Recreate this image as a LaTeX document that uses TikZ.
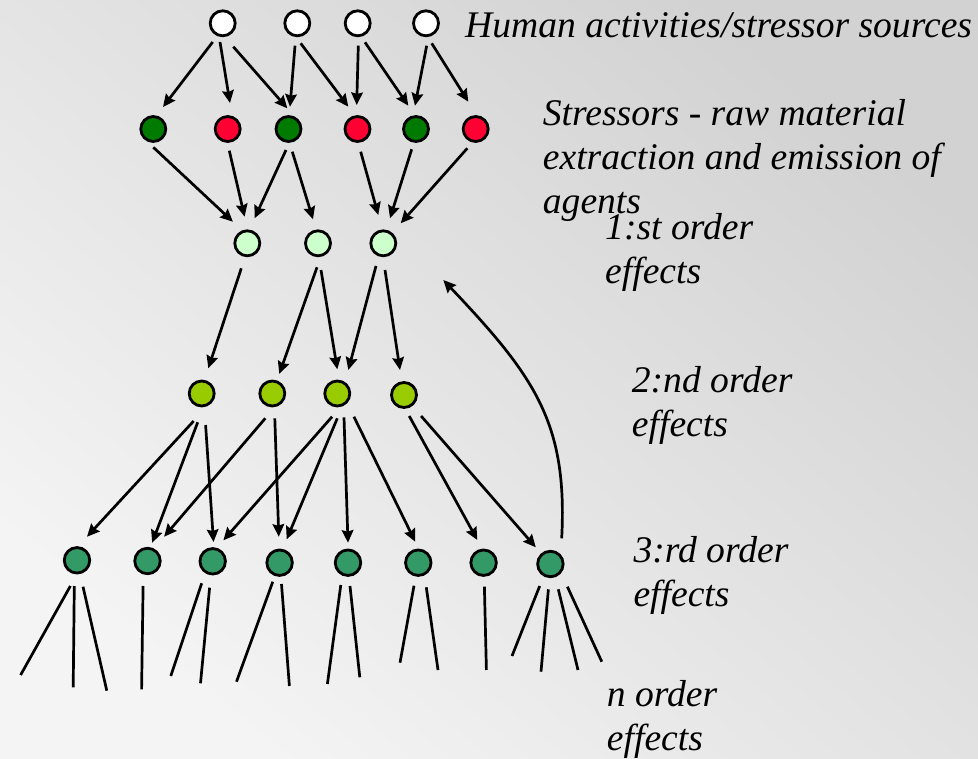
\documentclass[tikz,border=0pt]{standalone}
\usepackage{fontspec}
\setmainfont{Liberation Serif}
\usetikzlibrary{arrows.meta,calc}
\definecolor{bgdark}{HTML}{D2D2D2}
\definecolor{bglight}{HTML}{F4F4F4}
\definecolor{strgreen}{HTML}{007A00}
\definecolor{strred}{HTML}{FF0033}
\definecolor{firstord}{HTML}{CCFFCC}
\definecolor{secondord}{HTML}{99CC00}
\definecolor{thirdord}{HTML}{339966}
\begin{document}
\begin{tikzpicture}[x=1pt,y=-1pt,
  dot/.style={circle,draw=black,line width=2.8pt,minimum size=25pt,inner sep=0pt},
  bigdot/.style={dot,minimum size=25.5pt},
  arr/.style={line width=2.7pt,-{Stealth[length=12.5pt,width=11.5pt,inset=1.5pt]}},
  leg/.style={line width=2.7pt},
  lab/.style={anchor=base west,align=left,inner sep=0pt,
    font=\fontsize{37.6}{44}\selectfont\itshape}
]
% background
\shade[top color=bgdark,bottom color=bglight,shading angle=-40]
  (0,0) rectangle (978,759);
\useasboundingbox (0,0) rectangle (978,759);

% human activities / stressor sources
\node[dot,fill=white] (W1) at (222.7,23.3) {};
\node[dot,fill=white] (W2) at (297.3,23.3) {};
\node[dot,fill=white] (W3) at (357.7,23.3) {};
\node[dot,fill=white] (W4) at (426.0,23.3) {};

% stressors
\node[dot,fill=strgreen] (G1) at (153.3,129) {};
\node[dot,fill=strred]   (R1) at (227.7,129) {};
\node[dot,fill=strgreen] (G2) at (288.5,129) {};
\node[dot,fill=strred]   (R2) at (357.5,129) {};
\node[dot,fill=strgreen] (G3) at (416.0,129) {};
\node[dot,fill=strred]   (R3) at (475.7,129) {};

% 1st order effects
\node[dot,fill=firstord] (L1) at (247.3,243.3) {};
\node[dot,fill=firstord] (L2) at (318.0,243.3) {};
\node[dot,fill=firstord] (L3) at (383.3,243.3) {};

% 2nd order effects
\node[dot,fill=secondord] (Y1) at (201.7,393.5) {};
\node[dot,fill=secondord] (Y2) at (272.3,393.5) {};
\node[dot,fill=secondord] (Y3) at (337.3,393.5) {};
\node[dot,fill=secondord] (Y4) at (404.0,395.0) {};

% 3rd order effects
\node[bigdot,fill=thirdord] (D1) at (77.0,560.3) {};
\node[bigdot,fill=thirdord] (D2) at (147.5,561.0) {};
\node[bigdot,fill=thirdord] (D3) at (212.7,561.3) {};
\node[bigdot,fill=thirdord] (D4) at (279.6,562.7) {};
\node[bigdot,fill=thirdord] (D5) at (348.0,562.7) {};
\node[bigdot,fill=thirdord] (D6) at (418.3,562.7) {};
\node[bigdot,fill=thirdord] (D7) at (483.6,562.7) {};
\node[bigdot,fill=thirdord] (D8) at (550.4,564.0) {};

% sources -> stressors
\draw[arr] ($(W1)+(-10,18.7)$) -- ($(G1)+(9.7,-22)$);
\draw[arr] ($(W1)+(-2.7,18.7)$) -- ($(R1)+(2.3,-26)$);
\draw[arr] ($(W1)+(10.6,23.4)$) -- ($(G2)+(-1.2,-20.7)$);
\draw[arr] ($(W2)+(-2.3,22.4)$) -- ($(G2)+(1.5,-22.3)$);
\draw[arr] ($(W2)+(3.4,20)$) -- ($(R2)+(-9.2,-22.3)$);
\draw[arr] ($(W3)+(0.6,22.4)$) -- ($(R2)+(-0.8,-24)$);
\draw[arr] ($(W3)+(7.3,19)$) -- ($(G3)+(-7.7,-23.3)$);
\draw[arr] ($(W4)+(0.7,22.4)$) -- ($(G3)+(-1,-23.3)$);
\draw[arr] ($(W4)+(5.7,20)$) -- ($(R3)+(-7.4,-27.3)$);

% stressors -> 1st order
\draw[arr] ($(G1)+(0,18.3)$) -- ($(L1)+(-14.4,-21.6)$);
\draw[arr] ($(R1)+(1.6,21.7)$) -- ($(L1)+(-2.7,-26.6)$);
\draw[arr] ($(G2)+(-2.5,21)$) -- ($(L1)+(7.3,-25)$);
\draw[arr] ($(G2)+(3.8,22.7)$) -- ($(L2)+(-5,-24)$);
\draw[arr] ($(R2)+(3.2,22.7)$) -- ($(L3)+(-5,-28.3)$);
\draw[arr] ($(G3)+(-4.3,20.3)$) -- ($(L3)+(6.7,-25)$);
\draw[arr] ($(R3)+(-8.4,19.3)$) -- ($(L3)+(17.4,-20)$);

% 1st order -> 2nd order
\draw[arr] ($(L1)+(-6,25)$) -- ($(Y1)+(6.6,-25.2)$);
\draw[arr] ($(L2)+(-1,24)$) -- ($(Y2)+(7,-19.5)$);
\draw[arr] ($(L2)+(3,26.7)$) -- ($(Y3)+(0,-24.2)$);
\draw[arr] ($(L3)+(-7.3,22.7)$) -- ($(Y3)+(11,-23.5)$);
\draw[arr] ($(L3)+(1.7,26.7)$) -- ($(Y4)+(-4,-25)$);

% 2nd order -> 3rd order
\draw[arr] ($(Y1)+(-8,27.5)$) -- ($(D1)+(10,-23.6)$);
\draw[arr] ($(Y1)+(-4,28.8)$) -- ($(D2)+(4.7,-18.3)$);
\draw[arr] ($(Y1)+(3.9,31.5)$) -- ($(D3)+(0.8,-19.3)$);
\draw[arr] ($(Y2)+(-7,24.8)$) -- ($(D2)+(16.6,-24.3)$);
\draw[arr] ($(Y2)+(2.5,24.8)$) -- ($(D4)+(-0.8,-26)$);
\draw[arr] ($(Y3)+(-5.2,23.2)$) -- ($(D3)+(10.7,-21)$);
\draw[arr] ($(Y3)+(0,24.8)$) -- ($(D4)+(7.1,-23.4)$);
\draw[arr] ($(Y3)+(6.7,23.8)$) -- ($(D5)+(0,-20)$);
\draw[arr] ($(Y3)+(16.6,23.2)$) -- ($(D6)+(-3.1,-21)$);
\draw[arr] ($(Y4)+(5.2,21)$) -- ($(D7)+(-6.3,-22.7)$);
\draw[arr] ($(Y4)+(17.1,21)$) -- ($(D8)+(-14.6,-16.7)$);

% feedback from 3rd order back up to 1st order
\coordinate (fbtip) at (443.3,280);
\draw[arr] ($(D8)+(11.3,-25.7)$) .. controls +(6,-115) and +(92,97) .. (fbtip);

% n order effects: open-ended branches
\draw[leg] ($(D1)+(-6.6,25.7)$) -- ++(-49.8,89);
\draw[leg] ($(D1)+(-2.7,25.7)$) -- ++(-1.1,101.3);
\draw[leg] ($(D1)+(6,26.4)$) -- ++(23.8,104);
\draw[leg] ($(D2)+(-4.4,25)$) -- ++(-1.5,103.3);
\draw[leg] ($(D3)+(-11,22)$) -- ++(-30.9,92.7);
\draw[leg] ($(D3)+(-3.1,26.4)$) -- ++(-9.1,95.6);
\draw[leg] ($(D4)+(-6.8,19)$) -- ++(-36.3,100);
\draw[leg] ($(D4)+(1.9,21.3)$) -- ++(7.9,102);
\draw[leg] ($(D5)+(-7.2,22.3)$) -- ++(-13.4,99);
\draw[leg] ($(D5)+(2,23.3)$) -- ++(9.8,91.3);
\draw[leg] ($(D6)+(-4.3,23)$) -- ++(-14,77);
\draw[leg] ($(D6)+(8,24.6)$) -- ++(11.7,82.7);
\draw[leg] ($(D7)+(0.8,24)$) -- ++(2,83.3);
\draw[leg] ($(D8)+(-10.7,22)$) -- ++(-27.7,70);
\draw[leg] ($(D8)+(-2,25.3)$) -- ++(-7.4,82.4);
\draw[leg] ($(D8)+(7.9,25.3)$) -- ++(19.7,80.7);
\draw[leg] ($(D8)+(17,22.7)$) -- ++(34.4,75);

% level labels (anchored at the baseline of their last line)
\node[lab] (tsrc) at (465,38) {Human activities/stressor sources};
\node[lab] (tstr) at (542.7,213.3) {Stressors - raw material\\extraction and emission of\\agents};
\node[lab] (t1) at (605,283.3) {1:st order\\effects};
\node[lab] (t2) at (631.7,436.7) {2:nd order\\effects};
\node[lab] (t3) at (633.3,606.7) {3:rd order\\effects};
\node[lab] (tn) at (606.7,750) {n order\\effects};
\end{tikzpicture}
\end{document}
